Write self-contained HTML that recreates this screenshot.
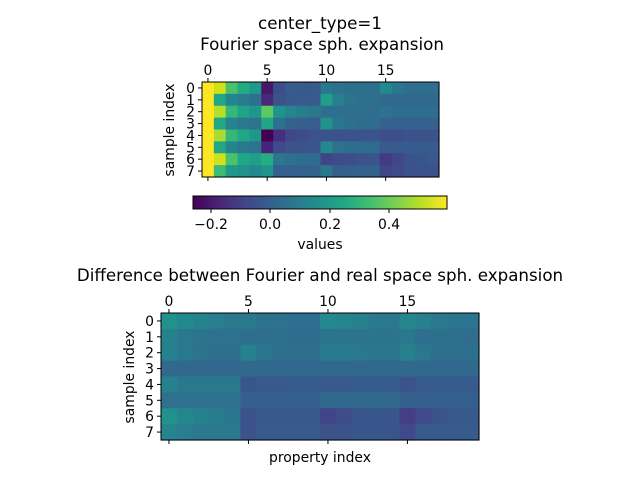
<!DOCTYPE html>
<html><head><meta charset="utf-8"><style>
body{margin:0;background:#fff}
svg text{font-family:"DejaVu Sans","Liberation Sans",sans-serif;fill:#000}
</style></head><body>
<svg id="s" width="640" height="480" xmlns="http://www.w3.org/2000/svg">
<defs><linearGradient id="vir" x1="0" x2="1" y1="0" y2="0">
<stop offset="0" stop-color="#440154"/><stop offset="0.1" stop-color="#482475"/><stop offset="0.2" stop-color="#414487"/><stop offset="0.3" stop-color="#355f8d"/><stop offset="0.4" stop-color="#2a788e"/><stop offset="0.5" stop-color="#21918c"/><stop offset="0.6" stop-color="#22a884"/><stop offset="0.7" stop-color="#44bf70"/><stop offset="0.8" stop-color="#7ad151"/><stop offset="0.9" stop-color="#bddf26"/><stop offset="1" stop-color="#fde725"/>
</linearGradient></defs>
<g id="top"></g><g id="bot"></g>
<text x="320" y="29" font-size="16.7" text-anchor="middle">center_type=1</text>
<text x="322" y="50" font-size="16.7" text-anchor="middle">Fourier space sph. expansion</text>
<text x="320" y="281" font-size="16.7" text-anchor="middle">Difference between Fourier and real space sph. expansion</text>
<rect x="193" y="196" width="254" height="13" fill="url(#vir)" stroke="#000" stroke-width="1"/>
<g font-size="13.9" text-anchor="middle">
<text x="211" y="229">−0.2</text><text x="270" y="229">0.0</text><text x="330" y="229">0.2</text><text x="389" y="229">0.4</text>
<text x="320" y="249">values</text>
<text x="320" y="462">property index</text>
</g>
<g stroke="#000" stroke-width="1">
<line x1="211" y1="209" x2="211" y2="213"/><line x1="270" y1="209" x2="270" y2="213"/><line x1="330" y1="209" x2="330" y2="213"/><line x1="389" y1="209" x2="389" y2="213"/>
</g>
<text transform="translate(174,130) rotate(-90)" font-size="13.9" text-anchor="middle">sample index</text>
<text transform="translate(134,377) rotate(-90)" font-size="13.9" text-anchor="middle">sample index</text>
</svg>
<script>
var T=[
["#fde725","#d0e11c","#4ac16d","#25ab82","#1f9a8a","#481769","#3e4c8a","#375b8d","#38598c","#38598c","#2a788e","#2c728e","#2d708e","#2d708e","#2d708e","#23898e","#2a788e","#2e6e8e","#2e6e8e","#2e6e8e"],
["#fde725","#22a785","#25858e","#297b8e","#2d718e","#482878","#3b528b","#375a8c","#375b8d","#375b8d","#1f9e89","#27808e","#2c738e","#2e6f8e","#2e6f8e","#31688e","#31688e","#31688e","#31688e","#31688e"],
["#fde725","#b5de2b","#35b779","#20a386","#1f968b","#5ec962","#1f948c","#25848e","#287c8e","#2a778e","#2d708e","#2d708e","#2e6f8e","#2e6f8e","#2f6c8e","#2c738e","#2e6d8e","#2e6d8e","#2e6d8e","#2e6d8e"],
["#fde725","#22a785","#26828e","#2a788e","#2c738e","#21a685","#2d708e","#33638d","#355f8d","#365d8d","#21918c","#2a768e","#2d708e","#2f6c8e","#2f6c8e","#34618d","#34618d","#34618d","#34618d","#34618d"],
["#fde725","#a8db34","#35b779","#22a785","#1f988b","#440154","#472f7d","#404688","#3e4c8a","#3b528b","#3b528b","#3b528b","#3b528b","#3a548c","#3a548c","#3d4e8a","#3d4e8a","#3b528b","#3b528b","#3b528b"],
["#fde725","#22a785","#25858e","#2a788e","#2c738e","#46247e","#3e4a89","#3b528b","#3b528b","#3a548c","#23898e","#2c728e","#2e6d8e","#2e6d8e","#2f6b8e","#375b8d","#375b8d","#375b8d","#375b8d","#375b8d"],
["#fde725","#d0e11c","#4ac16d","#22a785","#1f9e89","#27ad81","#2a778e","#2d718e","#2f6c8e","#2f6b8e","#414487","#3e4c8a","#3d4e8a","#3b528b","#3a548c","#443a83","#404688","#3b528b","#39568c","#38598c"],
["#fde725","#3bbb75","#1f9a8a","#21918c","#23898e","#1f958b","#355f8d","#34618d","#33638d","#33638d","#2a788e","#355f8d","#355f8d","#34618d","#33628d","#3f4788","#3e4a89","#3b528b","#3b528b","#3b528b"]];
function rep(a,n){var r=[];for(var i=0;i<n;i++)r.push(a);return r;}
var B=[
["#21918c","#23898e","#26828e","#287d8e","#2a788e","#2a788e","#2c728e","#2d718e","#2e6e8e","#2e6e8e","#23898e","#25848e","#26818e","#297a8e","#2a778e","#24878e","#27808e","#2a788e","#2b758e","#2b758e"],
["#27808e","#2a788e","#2c738e","#2d718e","#2d718e","#2e6f8e","#2e6f8e","#2e6f8e","#2f6c8e","#2f6c8e","#2c738e","#2c738e","#2c738e","#2c738e","#2c738e","#2a788e","#2e6f8e","#2e6f8e","#2e6f8e","#2f6c8e"],
["#26818e","#2a788e","#2c738e","#2e6f8e","#2e6f8e","#27808e","#2b758e","#2e6f8e","#2e6f8e","#2e6f8e","#297a8e","#297a8e","#2a788e","#2b758e","#2b758e","#27808e","#2a788e","#2e6f8e","#2e6f8e","#2e6f8e"],
rep("#31688e",20),
["#26818e","#2a788e","#2a788e","#2a788e","#2a788e","#39568c","#38598c","#38598c","#365c8d","#365c8d","#38598c","#38598c","#365c8d","#365c8d","#365c8d","#3b528b","#375b8d","#365c8d","#365c8d","#365c8d"],
["#2d718e","#2d718e","#2d718e","#2d718e","#2d718e","#355f8d","#355f8d","#355f8d","#355f8d","#355f8d","#31688e","#31688e","#31688e","#31688e","#31688e","#345f8d","#345f8d","#345f8d","#345f8d","#345f8d"],
["#21918c","#24878e","#26818e","#287c8e","#2b758e","#3b528b","#38598c","#38598c","#38598c","#38598c","#414487","#3e4c8a","#39568c","#39568c","#39568c","#433e85","#3e4a89","#3b528b","#38598c","#38598c"],
["#25848e","#287d8e","#2a788e","#2a788e","#2a788e","#3b528b","#375b8d","#375b8d","#375b8d","#375b8d","#3b528b","#3b528b","#39568c","#39568c","#39568c","#3e4a89","#375b8d","#375b8d","#375b8d","#375b8d"]];
var NS="http://www.w3.org/2000/svg";
function el(p,t,a){var e=document.createElementNS(NS,t);for(var k in a)e.setAttribute(k,a[k]);p.appendChild(e);return e;}
function draw(g,M,x0,y0,x1,y1){
 var cw=(x1-x0)/20,ch=(y1-y0)/8;
 for(var r=0;r<8;r++)for(var c=0;c<20;c++)
  el(g,"rect",{x:x0+c*cw,y:y0+r*ch,width:cw+0.6,height:ch+0.6,fill:M[r][c]});
 el(g,"rect",{x:x0,y:y0,width:x1-x0,height:y1-y0,fill:"none",stroke:"#000","stroke-width":1});
 [0,5,10,15].forEach(function(v){var x=x0+(v+0.5)*cw;
  el(g,"line",{x1:x,x2:x,y1:y0,y2:y0-4,stroke:"#000"});
  el(g,"line",{x1:x,x2:x,y1:y1,y2:y1+4,stroke:"#000"});
  var t=el(g,"text",{x:x,y:y0-7,"font-size":13.9,"text-anchor":"middle"});t.textContent=v;});
 for(var r=0;r<8;r++){var y=y0+(r+0.5)*ch;
  el(g,"line",{x1:x0,x2:x0-4,y1:y,y2:y,stroke:"#000"});
  var t=el(g,"text",{x:x0-7,y:y+5,"font-size":13.9,"text-anchor":"end"});t.textContent=r;}
}
draw(document.getElementById("top"),T,202,82,439,177);
draw(document.getElementById("bot"),B,161,313,479,440);
</script>
</body></html>
